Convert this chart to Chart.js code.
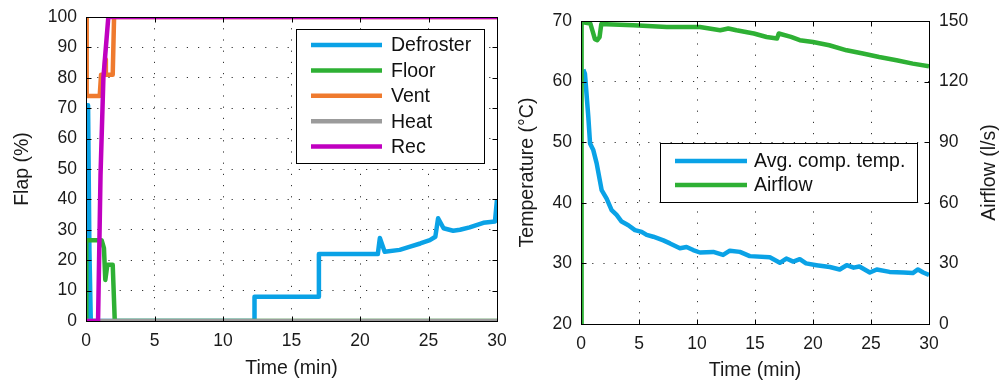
<!DOCTYPE html>
<html>
<head>
<meta charset="utf-8">
<style>
  body { margin: 0; background: #fff; }
  #wrap { position: relative; width: 1000px; height: 384px; overflow: hidden; }
  canvas { position: absolute; top: 0; }
  #flap { left: 0; }
  #temp { left: 500px; }
</style>
<script src="https://cdn.jsdelivr.net/npm/chart.js@4.4.0/dist/chart.umd.min.js"></script>
</head>
<body>
<div id="wrap">
  <canvas id="flap" width="520" height="384"></canvas>
  <canvas id="temp" width="500" height="384"></canvas>
</div>
<script>
// left panel: flap positions (%) over time (min)
const defrosterT = [0, 0.05, 0.15, 0.25, 0.35, 12.3, 12.3, 17.0, 17.0, 21.3, 21.45, 21.8, 22.9, 23.6, 24.4, 25.1, 25.5, 25.7, 26.1, 26.8, 27.3, 28.0, 29.0, 29.85, 30.0];
const defrosterV = [0, 71, 71, 23, 0, 0, 8, 8, 22, 22, 27.3, 22.8, 23.4, 24.4, 25.5, 26.6, 27.7, 33.8, 30.5, 29.7, 30, 30.8, 32.3, 32.7, 40];
const floorT = [0, 0.02, 1.14, 1.31, 1.41, 1.56, 1.95, 2.1, 30];
const floorV = [0, 26.6, 26.6, 24, 13.5, 18.5, 18.5, 0, 0];
const ventT = [0, 0.05, 1.0, 1.1, 1.35, 1.4, 1.45, 1.95, 2.05, 30];
const ventV = [100, 74, 74, 81, 81, 86, 81, 81, 100, 100];
const heatT = [0, 30];
const heatV = [0, 0];
const recT = [0, 0.88, 1.06, 1.27, 1.63, 30];
const recV = [0, 0, 48, 80, 100, 100];

// right panel: compartment temperature (°C) and airflow (l/s)
const tempT = [0.2, 0.34, 0.63, 0.78, 1.06, 1.35, 1.78, 2.21, 2.64, 3.07, 3.5, 4.08, 4.65, 5.23, 5.66, 6.23, 7.1, 7.67, 8.53, 9.1, 9.67, 10.25, 11.4, 12.25, 12.83, 13.7, 14.55, 16.28, 17.14, 17.7, 18.3, 18.86, 19.4, 20.3, 21.45, 22.3, 22.9, 23.5, 24.0, 24.9, 25.5, 26.6, 27.8, 28.6, 29.05, 29.5, 30];
const tempV = [62, 61.3, 54.2, 49.8, 48.7, 46.5, 42.1, 40.7, 38.8, 38.0, 36.9, 36.3, 35.5, 35.2, 34.7, 34.4, 33.8, 33.3, 32.5, 32.7, 32.2, 31.8, 31.9, 31.4, 32.1, 31.9, 31.2, 31.0, 30.1, 30.8, 30.3, 30.7, 30.0, 29.7, 29.4, 29.0, 29.7, 29.3, 29.5, 28.5, 29.0, 28.6, 28.5, 28.4, 29.0, 28.5, 28.1];
const airT = [0, 0.05, 0.8, 1.0, 1.2, 1.4, 1.6, 1.75, 2.2, 4.5, 7.4, 10.25, 12.0, 12.7, 13.4, 14.9, 16.0, 16.9, 17.05, 18.1, 18.86, 20.0, 21.4, 22.9, 24.3, 25.7, 27.2, 28.6, 30];
const airV = [0, 149.5, 148.8, 145, 141, 140.5, 142, 148.5, 148.4, 147.9, 147.0, 147.0, 145.4, 146.3, 145.4, 143.8, 142.1, 141.3, 143.8, 142.1, 140.5, 139.6, 138, 135.5, 133.9, 132.2, 130.6, 128.9, 127.6];

const timeTicks = 5;
const flapRange = [0, 100, 10];
const tempRange = [20, 70, 10];
const airRange = [0, 150, 30];

const BLUE = "#0aa2e6", GREEN = "#2eb034", ORANGE = "#ef7a2e", GRAY = "#9b9b9b", MAGENTA = "#c000c0";
const FONT = "'Liberation Sans', Arial, Helvetica, sans-serif";
Chart.defaults.font.family = FONT;
Chart.defaults.color = "#1a1a1a";

const pts = (xs, ys) => xs.map((x, i) => ({ x: x, y: ys[i] }));

function line(label, xs, ys, color, order, axis) {
  return {
    label: label,
    data: pts(xs, ys),
    borderColor: color,
    backgroundColor: color,
    borderWidth: 4.5,
    pointRadius: 0,
    tension: 0,
    borderJoinStyle: "round",
    order: order,
    yAxisID: axis || "y",
  };
}

// box + inward ticks like matlab
const frame = {
  id: "frame",
  afterDatasetsDraw(chart, args, o) {
    const { ctx, chartArea: a, scales } = chart;
    const L = Math.round(a.left) + 0.5, R = Math.round(a.right) + 0.5;
    const T = Math.round(a.top) + 0.5, B = Math.round(a.bottom) + 0.5;
    ctx.save();
    ctx.strokeStyle = "#000";
    ctx.lineWidth = 1;
    ctx.beginPath();
    scales.x.ticks.forEach((t) => {
      const p = Math.round(scales.x.getPixelForValue(t.value)) + 0.5;
      ctx.moveTo(p, B); ctx.lineTo(p, B - 5);
      ctx.moveTo(p, T); ctx.lineTo(p, T + 5);
    });
    const ls = scales[o.left], rs = scales[o.right];
    ls.ticks.forEach((t) => {
      const p = Math.round(ls.getPixelForValue(t.value)) + 0.5;
      ctx.moveTo(L, p); ctx.lineTo(L + 5, p);
    });
    rs.ticks.forEach((t) => {
      const p = Math.round(rs.getPixelForValue(t.value)) + 0.5;
      ctx.moveTo(R, p); ctx.lineTo(R - 5, p);
    });
    ctx.stroke();
    ctx.strokeRect(L, T, R - L, B - T);
    if (o.rightTitle) {
      ctx.translate(o.rightTitleX, (a.top + a.bottom) / 2);
      ctx.rotate(-Math.PI / 2);
      ctx.font = "19.5px " + FONT;
      ctx.fillStyle = "#1a1a1a";
      ctx.textAlign = "center";
      ctx.textBaseline = "middle";
      ctx.fillText(o.rightTitle, 0, 0);
    }
    ctx.restore();
  },
};

const legendBox = {
  id: "legendBox",
  afterDraw(chart, args, o) {
    const ctx = chart.ctx;
    ctx.save();
    ctx.fillStyle = "#fff";
    ctx.fillRect(o.x, o.y, o.w, o.h);
    ctx.strokeStyle = "#000";
    ctx.lineWidth = 1;
    ctx.strokeRect(o.x + 0.5, o.y + 0.5, o.w, o.h);
    ctx.font = "19.5px " + FONT;
    ctx.textBaseline = "middle";
    chart.data.datasets.forEach((ds, i) => {
      const y = o.row0 + i * o.step;
      ctx.strokeStyle = ds.borderColor;
      ctx.lineWidth = 4.5;
      ctx.beginPath();
      ctx.moveTo(o.x0, y);
      ctx.lineTo(o.x1, y);
      ctx.stroke();
      ctx.fillStyle = "#111";
      ctx.fillText(ds.label, o.tx, y + 1);
    });
    ctx.restore();
  },
};

const gridOpts = { color: "#333", lineWidth: 1, drawTicks: false };
const dots = { display: false, dash: [1.2, 10] };
const tickFont = { size: 17.5 };
const titleFont = { size: 19.5 };

function xScale(h, padBottom) {
  return {
    type: "linear", min: 0, max: 30,
    ticks: { stepSize: timeTicks, padding: 10, font: tickFont, maxRotation: 0, autoSkip: false },
    grid: gridOpts, border: dots,
    title: { display: true, text: "Time (min)", font: titleFont, padding: { top: 0, bottom: padBottom } },
    afterFit(s) { s.height = h; s.paddingLeft = 0; s.paddingRight = 0; },
  };
}

new Chart(document.getElementById("flap"), {
  type: "line",
  data: {
    datasets: [
      line("Defroster", defrosterT, defrosterV, BLUE, 5),
      line("Floor", floorT, floorV, GREEN, 4),
      line("Vent", ventT, ventV, ORANGE, 3),
      line("Heat", heatT, heatV, GRAY, 2),
      line("Rec", recT, recV, MAGENTA, 1),
    ],
  },
  options: {
    responsive: false, animation: false, devicePixelRatio: 1,
    layout: { padding: { top: 17, left: 0, right: 23, bottom: 0 } },
    scales: {
      x: xScale(63, 3.5),
      y: {
        min: flapRange[0], max: flapRange[1],
        ticks: { stepSize: flapRange[2], padding: 9, font: tickFont },
        grid: gridOpts, border: dots,
        title: { display: true, text: "Flap (%)", font: titleFont, padding: { top: 11, bottom: 0 } },
        afterFit(s) { s.width = 86; s.paddingTop = 0; s.paddingBottom = 0; },
      },
    },
    plugins: {
      legend: { display: false },
      tooltip: { enabled: false },
      frame: { left: "y", right: "y" },
      legendBox: { x: 296, y: 29, w: 188, h: 134, x0: 311, x1: 382, tx: 391, row0: 45, step: 25.4 },
    },
  },
  plugins: [frame, legendBox],
});

new Chart(document.getElementById("temp"), {
  type: "line",
  data: {
    datasets: [
      line("Avg. comp. temp.", tempT, tempV, BLUE, 2, "y"),
      line("Airflow", airT, airV, GREEN, 1, "y2"),
    ],
  },
  options: {
    responsive: false, animation: false, devicePixelRatio: 1,
    layout: { padding: { top: 21, left: 0, right: 0, bottom: 0 } },
    scales: {
      x: xScale(60, 1.5),
      y: {
        position: "left",
        min: tempRange[0], max: tempRange[1],
        ticks: { stepSize: tempRange[2], padding: 9, font: tickFont },
        grid: gridOpts, border: dots,
        title: { display: true, text: "Temperature (°C)", font: titleFont, padding: { top: 16, bottom: 0 } },
        afterFit(s) { s.width = 81; s.paddingTop = 0; s.paddingBottom = 0; },
      },
      y2: {
        position: "right",
        min: airRange[0], max: airRange[1],
        ticks: { stepSize: airRange[2], padding: 10, font: tickFont },
        grid: { display: false, drawTicks: false },
        border: { display: false },
        afterFit(s) { s.width = 71; s.paddingTop = 0; s.paddingBottom = 0; },
      },
    },
    plugins: {
      legend: { display: false },
      tooltip: { enabled: false },
      frame: { left: "y", right: "y2", rightTitle: "Airflow (l/s)", rightTitleX: 490 },
      legendBox: { x: 160, y: 143, w: 257, h: 59, x0: 175, x1: 247, tx: 254, row0: 161, step: 24 },
    },
  },
  plugins: [frame, legendBox],
});
</script>
</body>
</html>
